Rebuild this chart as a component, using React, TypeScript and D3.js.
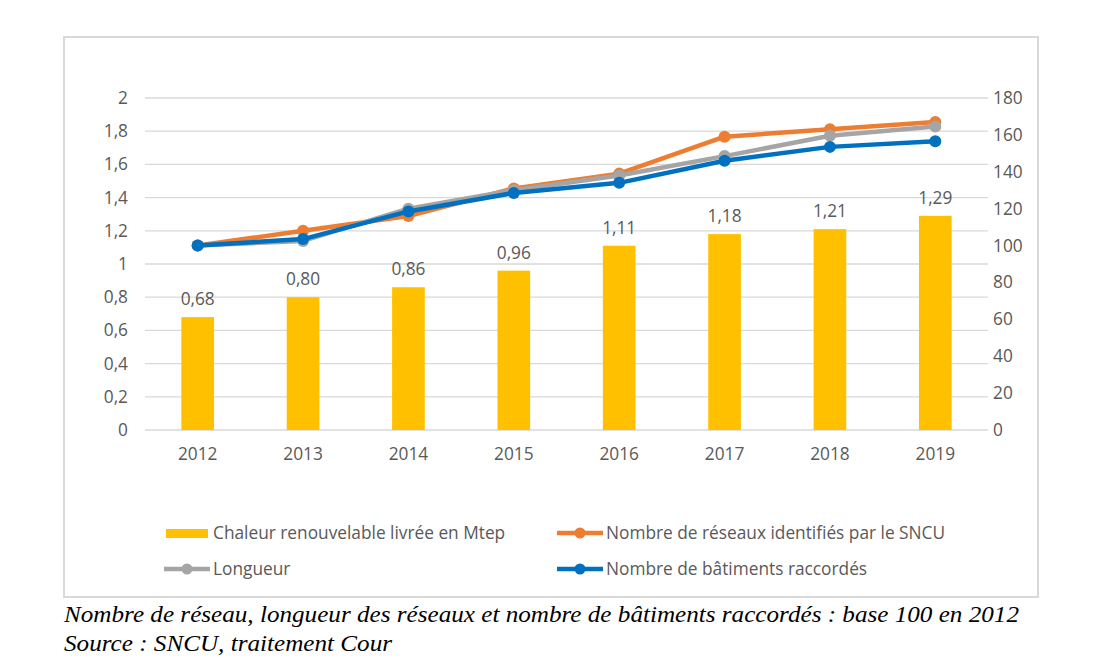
import React from "react";
import * as d3 from "d3";

const years = ["2012", "2013", "2014", "2015", "2016", "2017", "2018", "2019"];
const chaleur = [0.68, 0.8, 0.86, 0.96, 1.11, 1.18, 1.21, 1.29];
const chaleurLabels = ["0,68", "0,80", "0,86", "0,96", "1,11", "1,18", "1,21", "1,29"];
const reseaux = [100, 108, 116, 131, 139, 159, 163, 167];
const longueur = [100, 102.5, 120, 130, 138, 148.5, 159.5, 164.5];
const batiments = [100, 103.5, 118.5, 128.5, 134, 146, 153.5, 156.5];
const leftTicks = [0, 0.2, 0.4, 0.6, 0.8, 1, 1.2, 1.4, 1.6, 1.8, 2];
const rightTicks = [0, 20, 40, 60, 80, 100, 120, 140, 160, 180];
const caption1 = "Nombre de réseau, longueur des réseaux et nombre de bâtiments raccordés : base 100 en 2012";
const caption2 = "Source : SNCU, traitement Cour";

const ORANGE = "#ED7D31";
const GRAY = "#A5A5A5";
const BLUE = "#0070C0";
const GOLD = "#FFC000";
const TXT = "#595959";
const FONT = "'Open Sans', 'Noto Sans', sans-serif";
const FS = 17.3;

export default function App() {
  const x0 = 145, x1 = 988, yTop = 98, yBot = 430;
  const x = d3.scaleBand().domain(years).range([x0, x1]).paddingInner(0.69).paddingOuter(0.345);
  const xc = (d: string) => (x(d) as number) + x.bandwidth() / 2;
  const yL = d3.scaleLinear().domain([0, 2]).range([yBot, yTop]);
  const yR = d3.scaleLinear().domain([0, 180]).range([yBot, yTop]);
  const fmt = (v: number) => String(Math.round(v * 10) / 10).replace(".", ",");
  const line = d3.line<number>().x((_, i) => xc(years[i])).y((v) => yR(v));
  const series = [
    { name: "Nombre de réseaux identifiés par le SNCU", data: reseaux, color: ORANGE },
    { name: "Longueur", data: longueur, color: GRAY },
    { name: "Nombre de bâtiments raccordés", data: batiments, color: BLUE },
  ];
  return (
    <div style={{ position: "absolute", left: 0, top: 0 }}>
      <svg width={1100} height={670} style={{ display: "block", background: "#fff" }}>
        <rect x={64} y={37} width={974} height={560} fill="#fff" stroke="#D9D9D9" strokeWidth={2} />
        {leftTicks.map((t) => (
          <g key={"l" + t}>
            {t > 0 && <line x1={x0} x2={x1} y1={yL(t)} y2={yL(t)} stroke="#D9D9D9" strokeWidth={1.3} />}
            <text x={128} y={yL(t)} dy="0.35em" textAnchor="end" fontFamily={FONT} fontSize={FS} fill={TXT}>
              {fmt(t)}
            </text>
          </g>
        ))}
        <line x1={x0} x2={x1} y1={yBot} y2={yBot} stroke="#D9D9D9" strokeWidth={1.3} />
        {rightTicks.map((t) => (
          <text key={"r" + t} x={993} y={yR(t)} dy="0.35em" textAnchor="start" fontFamily={FONT} fontSize={FS} fill={TXT}>
            {t}
          </text>
        ))}
        {years.map((yr) => (
          <text key={"x" + yr} x={xc(yr)} y={454} dy="0.35em" textAnchor="middle" fontFamily={FONT} fontSize={FS} fill={TXT}>
            {yr}
          </text>
        ))}
        {chaleur.map((v, i) => (
          <g key={"b" + i}>
            <rect x={x(years[i])} y={yL(v)} width={x.bandwidth()} height={yBot - yL(v)} fill={GOLD} />
            <text x={xc(years[i])} y={yL(v) - 12} textAnchor="middle" fontFamily={FONT} fontSize={FS} fill={TXT}>
              {chaleurLabels[i]}
            </text>
          </g>
        ))}
        {series.map((s) => (
          <g key={s.name}>
            <path d={line(s.data) || ""} fill="none" stroke={s.color} strokeWidth={4.5} strokeLinejoin="round" />
            {s.data.map((v, i) => (
              <circle key={i} cx={xc(years[i])} cy={yR(v)} r={6} fill={s.color} />
            ))}
          </g>
        ))}
        {/* legend */}
        <rect x={166} y={529} width={42} height={9} fill={GOLD} />
        <text x={213} y={533} dy="0.35em" fontFamily={FONT} fontSize={FS} fill={TXT}>Chaleur renouvelable livrée en Mtep</text>
        {[
          { s: series[0], lx: 557, ly: 533 },
          { s: series[1], lx: 164, ly: 569 },
          { s: series[2], lx: 557, ly: 569 },
        ].map(({ s, lx, ly }) => (
          <g key={"lg" + s.name}>
            <line x1={lx} x2={lx + 46} y1={ly} y2={ly} stroke={s.color} strokeWidth={4.5} />
            <circle cx={lx + 23} cy={ly} r={5.5} fill={s.color} />
            <text x={lx + 49} y={ly} dy="0.35em" fontFamily={FONT} fontSize={FS} fill={TXT}>{s.name}</text>
          </g>
        ))}
        <text x={64} y={622} fontFamily="'Liberation Serif', 'Times New Roman', serif" fontStyle="italic" fontSize={24} fill="#000" textLength={955} lengthAdjust="spacingAndGlyphs">
          {caption1}
        </text>
        <text x={64} y={651} fontFamily="'Liberation Serif', 'Times New Roman', serif" fontStyle="italic" fontSize={24} fill="#000" textLength={328} lengthAdjust="spacingAndGlyphs">
          {caption2}
        </text>
      </svg>
    </div>
  );
}
